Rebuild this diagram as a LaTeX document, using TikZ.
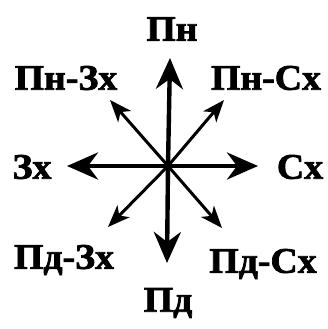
\documentclass[tikz,border=0pt]{standalone}
\usepackage{fontspec}
\setmainfont{Liberation Serif}
\newfontfamily\lblfont{Liberation Serif Bold}[FakeBold=2, FakeStretch=1.05]
\usepackage{tikz}
\usetikzlibrary{arrows.meta}
\tikzset{
  dirlbl/.style ={font=\lblfont\fontsize{36}{36}\selectfont, inner sep=0pt},
  mainarr/.style={-{Stealth[length=31pt, width=27pt, inset=10pt]},
                  line width=4.4pt},
  diagarr/.style={-{Stealth[length=22pt, width=17pt, inset=6pt]},
                  line width=3pt},
}
\begin{document}
\begin{tikzpicture}[x=1pt, y=1pt]
  \useasboundingbox (-168,-163) rectangle (159,166);
  % centre of the rose
  \coordinate (c) at (0,0);
  % arrow tips
  \coordinate (tN)  at (2,108);
  \coordinate (tS)  at (-1,-97);
  \coordinate (tW)  at (-101,0);
  \coordinate (tE)  at (90,0);
  \coordinate (tNE) at (56,66);
  \coordinate (tNW) at (-58,66);
  \coordinate (tSW) at (-60,-61);
  \coordinate (tSE) at (54,-62);
  % labels
  \node[dirlbl] (pn)   at (4,137)    {Пн};
  \node[dirlbl] (pnzx) at (-102,88)  {Пн-Зх};
  \node[dirlbl] (pnsx) at (98,88)    {Пн-Сх};
  \node[dirlbl] (zx)   at (-136,-1)  {Зх};
  \node[dirlbl] (sx)   at (132,-1)   {Сх};
  \node[dirlbl] (pdzx) at (-104,-94) {Пд-Зх};
  \node[dirlbl] (pdsx) at (95,-98)   {Пд-Сх};
  \node[dirlbl] (pd)   at (0,-137)   {Пд};
  % arrows
  \draw[mainarr] (c) -- (tN);
  \draw[mainarr] (c) -- (tS);
  \draw[mainarr] (c) -- (tW);
  \draw[mainarr] (c) -- (tE);
  \draw[diagarr] (c) -- (tNE);
  \draw[diagarr] (c) -- (tNW);
  \draw[diagarr] (c) -- (tSW);
  \draw[diagarr] (c) -- (tSE);
\end{tikzpicture}
\end{document}
